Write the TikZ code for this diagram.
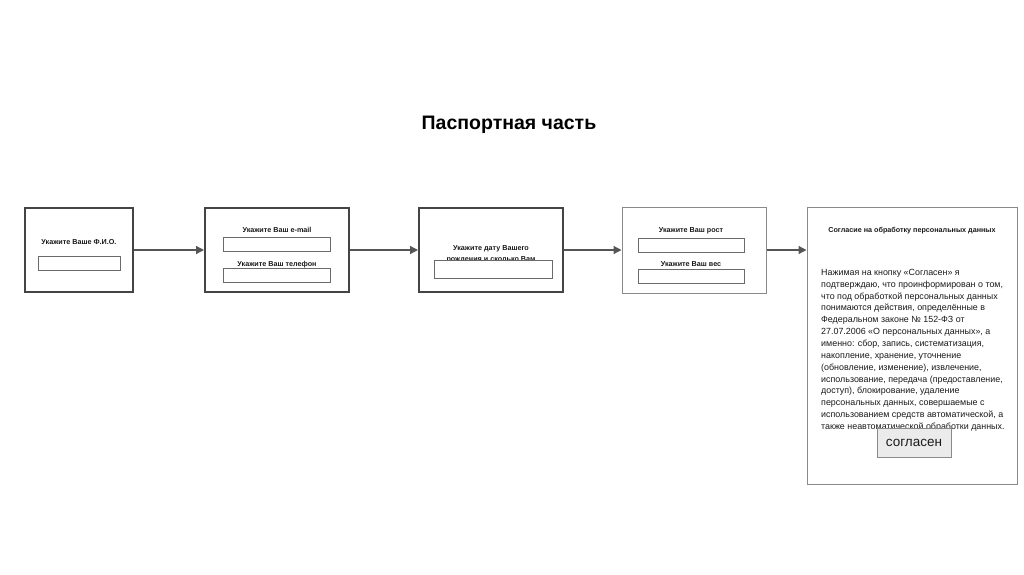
\documentclass[tikz,border=0pt]{standalone}
\usepackage{fontspec}
\setmainfont{Liberation Sans}
\usetikzlibrary{arrows.meta}
\definecolor{boxdark}{HTML}{444444}
\definecolor{boxlight}{HTML}{8A8A8A}
\definecolor{fieldc}{HTML}{6A6A6A}
\definecolor{arrowc}{HTML}{555555}
\definecolor{btnfill}{HTML}{EBEBEB}
\definecolor{txt}{HTML}{1A1A1A}
\tikzset{
  heavybox/.style={draw=boxdark, line width=2pt, inner sep=0pt, fill=white},
  lightbox/.style={draw=boxlight, line width=1pt, inner sep=0pt, fill=white},
  field/.style={draw=fieldc, line width=0.8pt, fill=white, inner sep=0pt},
  lbl/.style={font=\fontsize{7.2}{8}\selectfont\bfseries, text=txt, inner sep=0pt, anchor=base},
  flow/.style={draw=arrowc, line width=1.3pt, -{Triangle[length=8pt,width=8pt]}},
}
\begin{document}
\begin{tikzpicture}[x=1pt,y=-1pt]
\useasboundingbox (0,0) rectangle (1024,574);
\fill[white] (0,0) rectangle (1024,574);
\node[font=\fontsize{19.5}{22}\selectfont\bfseries, text=black, anchor=base] (title) at (509,129.5) {Паспортная часть};

% box 1
\node[heavybox, minimum width=108pt, minimum height=84pt] (b1) at (79,250) {};
\node[lbl] (l1) at (79,244.5) {Укажите Ваше Ф.И.О.};
\node[field, minimum width=82pt, minimum height=14pt] (f1) at (79,263) {};

% box 2
\node[heavybox, minimum width=144pt, minimum height=84pt] (b2) at (277,250) {};
\node[lbl] (l2a) at (277,232.5) {Укажите Ваш e-mail};
\node[field, minimum width=107pt, minimum height=14pt] (f2a) at (276.5,244) {};
\node[lbl] (l2b) at (277,266.5) {Укажите Ваш телефон};
\node[field, minimum width=107pt, minimum height=14pt] (f2b) at (276.5,275) {};

% box 3
\node[heavybox, minimum width=144pt, minimum height=84pt] (b3) at (491,250) {};
\node[lbl] (l3a) at (491,250) {Укажите дату Вашего};
\node[lbl] (l3b) at (491,261.5) {рождения и сколько Вам};
\node[field, minimum width=118pt, minimum height=18pt] (f3) at (493,269) {};

% box 4
\node[lightbox, minimum width=144pt, minimum height=86pt] (b4) at (694,250) {};
\node[lbl] (l4a) at (691,232.5) {Укажите Ваш рост};
\node[field, minimum width=106pt, minimum height=14pt] (f4a) at (691,245) {};
\node[lbl] (l4b) at (691,266.5) {Укажите Ваш вес};
\node[field, minimum width=106pt, minimum height=14pt] (f4b) at (691,276) {};

% box 5
\node[lightbox, minimum width=210pt, minimum height=277pt] (b5) at (912,345.5) {};
\node[lbl] (l5) at (912,232.5) {Согласие на обработку персональных данных};
\node[anchor=north west, inner sep=0pt, align=left, text=txt,
      font=\fontsize{8.9}{11.85}\selectfont] (body) at (821,269) {%
Нажимая на кнопку «Согласен» я\\
подтверждаю, что проинформирован о том,\\
что под обработкой персональных данных\\
понимаются действия, определённые в\\
Федеральном законе № 152-ФЗ от\\
27.07.2006 «О персональных данных», а\\
именно: сбор, запись, систематизация,\\
накопление, хранение, уточнение\\
(обновление, изменение), извлечение,\\
использование, передача (предоставление,\\
доступ), блокирование, удаление\\
персональных данных, совершаемые с\\
использованием средств автоматической, а\\
также неавтоматической обработки данных.};
\node[draw=boxlight, line width=0.8pt, fill=btnfill, minimum width=74pt, minimum height=29pt,
      inner sep=0pt, font=\fontsize{13.5}{15}\selectfont, text=txt] (btn) at (914,442.5) {согласен};

% connectors
\draw[flow] (b1.east) -- (b2.west);
\draw[flow] (b2.east) -- (b3.west);
\draw[flow] (b3.east) -- (b4.west);
\draw[flow] (b4.east) -- (b5.west |- b4.east);
\end{tikzpicture}
\end{document}
